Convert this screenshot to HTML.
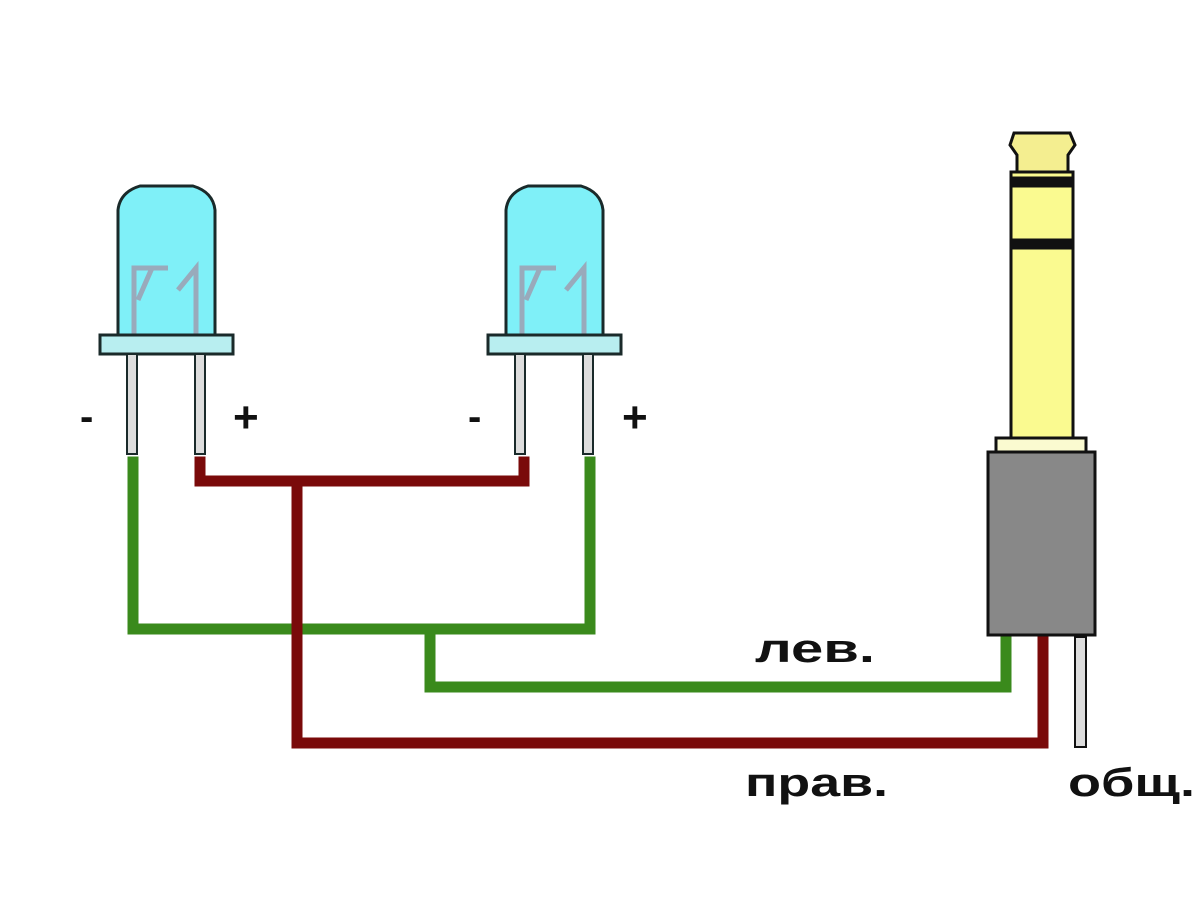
<!DOCTYPE html>
<html><head><meta charset="utf-8"><style>
html,body{margin:0;padding:0;background:#fff;width:1200px;height:900px;overflow:hidden}
text{font-family:"Liberation Sans","DejaVu Sans",sans-serif;font-weight:bold;fill:#111}
</style></head><body>
<svg width="1200" height="900" viewBox="0 0 1200 900" xmlns="http://www.w3.org/2000/svg">
<rect width="1200" height="900" fill="#fff"/>
<g fill="none" stroke-width="11" stroke-linejoin="miter" stroke-linecap="square">
<path d="M133 462 V629 H590 V462" stroke="#3a8a1c"/>
<path d="M430 629 V687 H1006 V638" stroke="#3a8a1c"/>
<path d="M200 462 V481 H524 V462" stroke="#7a0a0a"/>
<path d="M297 481 V743 H1043 V638" stroke="#7a0a0a"/>
</g>
<g id="led" stroke="#1a2a2a" stroke-width="3">
<path d="M118 335 V210 Q120 192 140 186 H193 Q213 192 215 210 V335 Z" fill="#7ff0f8"/>
<path d="M134 335 V268 H168 M152 268 L138 300 M178 290 L196 268 V335" fill="none" stroke="#9ab" stroke-width="5"/>
<rect x="100" y="335" width="133" height="19" fill="#b8eef0"/>
<rect x="127" y="354" width="10" height="100" fill="#ddd" stroke-width="2"/>
<rect x="195" y="354" width="10" height="100" fill="#ddd" stroke-width="2"/>
</g>
<use href="#led" x="388"/>
<g stroke="#111" stroke-width="3">
<path d="M1014 133 H1070 L1075 145 L1068 155 V172 H1017 V155 L1010 145 Z" fill="#f4ee90"/>
<rect x="1011" y="172" width="62" height="268" fill="#fafa90"/>
<rect x="1011" y="178" width="62" height="8" fill="#111"/>
<rect x="1011" y="240" width="62" height="8" fill="#111"/>
<rect x="996" y="438" width="90" height="14" fill="#fafad0"/>
<rect x="988" y="452" width="107" height="183" fill="#888"/>
<rect x="1075" y="637" width="11" height="110" fill="#ddd" stroke-width="2"/>
</g>
<text x="80" y="430" font-size="40">-</text>
<text x="233" y="432" font-size="44">+</text>
<text x="468" y="430" font-size="40">-</text>
<text x="622" y="432" font-size="44">+</text>
<text x="755" y="662" font-size="40" textLength="120" lengthAdjust="spacingAndGlyphs">лев.</text>
<text x="745" y="796" font-size="40" textLength="143" lengthAdjust="spacingAndGlyphs">прав.</text>
<text x="1068" y="796" font-size="40" textLength="127" lengthAdjust="spacingAndGlyphs">общ.</text>
</svg>
</body></html>
